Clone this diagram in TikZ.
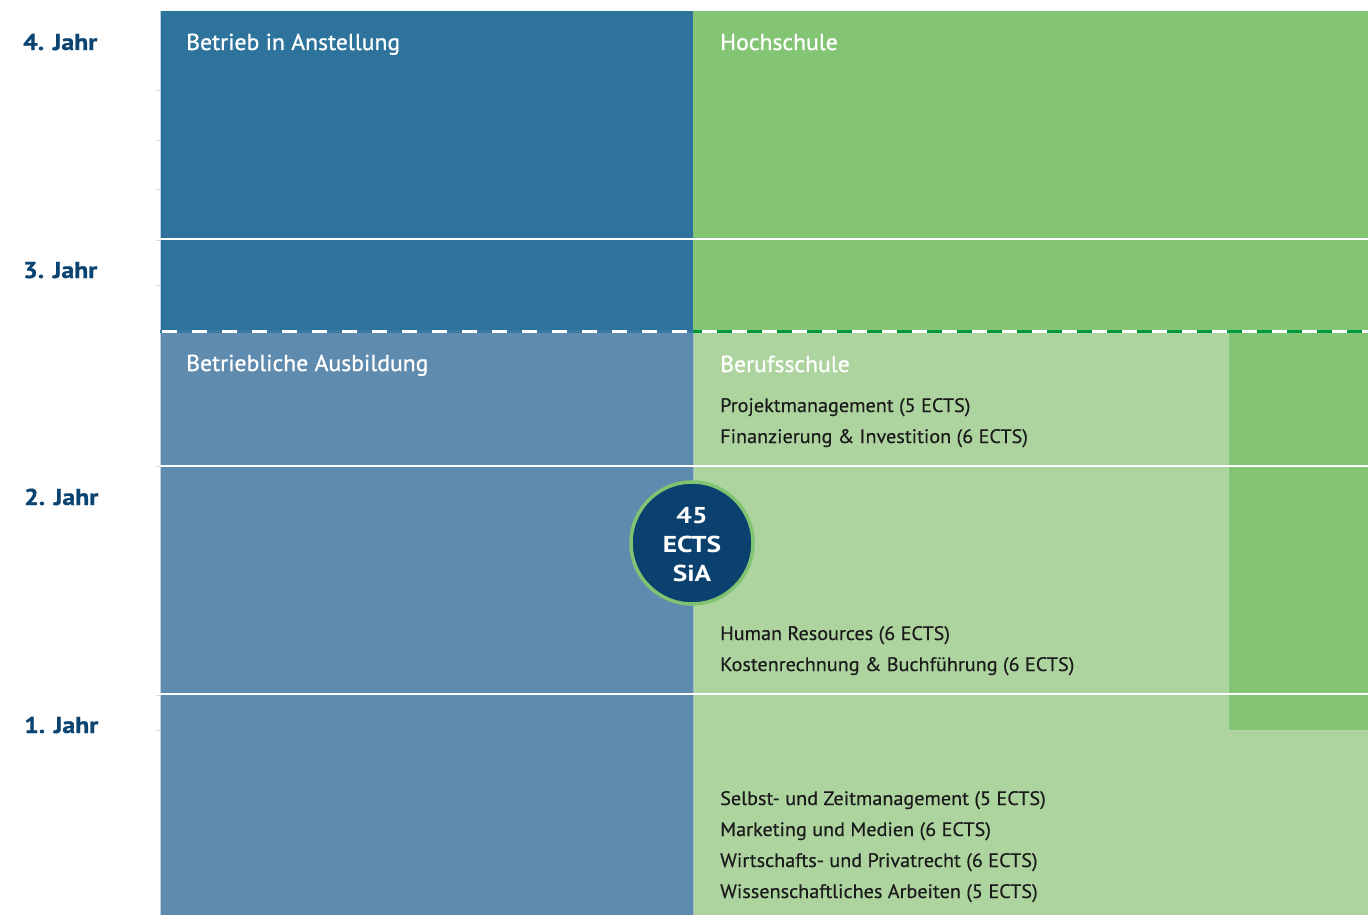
\documentclass[tikz,border=0pt]{standalone}
\usepackage{fontspec}
\setmainfont{PT Sans}[FakeStretch=1.03]
\newfontfamily\titlefont{PT Sans}[FakeStretch=1.03, FakeBold=0.9]
\newfontfamily\itemfont{PT Sans}[FakeStretch=1.035, FakeBold=0.35]
\newfontfamily\yearfont{PT Sans}[FakeStretch=1.12, FakeBold=0.8]
\newfontfamily\badgefont{PT Sans}[FakeStretch=1.19]
\definecolor{blueDark}{HTML}{2D739B}
\definecolor{blueLight}{HTML}{5F8BAE}
\definecolor{greenDark}{HTML}{84C475}
\definecolor{greenLight}{HTML}{ADD49F}
\definecolor{dashGreen}{HTML}{009A3E}
\definecolor{dashBlue}{HTML}{3A78A2}
\definecolor{navy}{HTML}{0B4470}
\definecolor{badgeFill}{HTML}{0B416E}
\definecolor{badgeRing}{HTML}{80C472}
\definecolor{itemText}{HTML}{1A1A1A}
\definecolor{tickGray}{HTML}{D3DAE0}
\tikzset{
  yearlabel/.style={anchor=base west, inner sep=0pt, text=navy, font=\yearfont\fontsize{23}{27}\selectfont\bfseries},
  paneltitle/.style={anchor=base west, inner sep=0pt, text=white, font=\titlefont\fontsize{23}{27}\selectfont},
  moduleitem/.style={anchor=base west, inner sep=0pt, text=itemText, font=\itemfont\fontsize{19.5}{23}\selectfont},
  badgetext/.style={anchor=base, inner sep=0pt, text=white, font=\badgefont\fontsize{23}{27}\selectfont\bfseries},
  yearrule/.style={white, line width=2pt},
  axistick/.style={tickGray, line width=1pt},
}
\begin{document}
\begin{tikzpicture}[x=1pt,y=-1pt]
\useasboundingbox (0,0) rectangle (1372,915);

% panels
\fill[blueDark]   (160,11)  rectangle (693,331);
\fill[blueLight]  (160,331) rectangle (693,915);
\fill[greenDark]  (693,11)  rectangle (1368,331);
\fill[greenLight] (693,331) rectangle (1368,915);
\fill[greenDark]  (1228,331) rectangle (1368,730);

% thin edges
\draw[white!60!blueLight, line width=1pt] (160.5,11) -- (160.5,915);
\draw[white!40!blueLight, line width=0.8pt] (693,331) -- (693,915);
\draw[white!35!greenDark, line width=0.8pt] (1228,331) -- (1228,730) -- (1368,730);

% ticks on the time axis
\foreach \ty in {91,140,189,240,285,466,695,730}
  \draw[axistick] (156,\ty) -- (160,\ty);

% year boundaries
\draw[yearrule] (160,238.5) -- (1368,238.5);
\draw[yearrule] (160,466) -- (1368,466);
\draw[yearrule] (160,694) -- (1368,694);

% transition between training and employment
\draw[dashBlue, line width=3.3pt]  (160,331.5) -- (693,331.5);
\draw[dashGreen, line width=3.3pt] (693,331.5) -- (1372,331.5);
\draw[white, line width=3.3pt, dash pattern=on 15pt off 15pt, dash phase=28pt] (160,331.5) -- (1372,331.5);

% year labels
\node[yearlabel] (y4) at (23,50)  {4. Jahr};
\node[yearlabel] (y3) at (23,278) {3. Jahr};
\node[yearlabel] (y2) at (24,505) {2. Jahr};
\node[yearlabel] (y1) at (24,733) {1. Jahr};

% panel titles
\node[paneltitle] (tA) at (186,50)  {Betrieb in Anstellung};
\node[paneltitle] (tH) at (720,50)  {Hochschule};
\node[paneltitle] (tB) at (186,371) {Betriebliche Ausbildung};
\node[paneltitle] (tS) at (720,372) {Berufsschule};

% modules
\node[moduleitem] (m1) at (720,412) {Projektmanagement (5 ECTS)};
\node[moduleitem] (m2) at (720,443) {Finanzierung \& Investition (6 ECTS)};
\node[moduleitem] (m3) at (720,640) {Human Resources (6 ECTS)};
\node[moduleitem] (m4) at (720,671) {Kostenrechnung \& Buchführung (6 ECTS)};
\node[moduleitem] (m5) at (720,805) {Selbst- und Zeitmanagement (5 ECTS)};
\node[moduleitem] (m6) at (720,836) {Marketing und Medien (6 ECTS)};
\node[moduleitem] (m7) at (720,867) {Wirtschafts- und Privatrecht (6 ECTS)};
\node[moduleitem] (m8) at (720,898) {Wissenschaftliches Arbeiten (5 ECTS)};

% credit badge
\node[circle, fill=badgeFill, draw=badgeRing, line width=3.5pt, minimum size=122pt, inner sep=0pt] (badge) at (692,543) {};
\node[badgetext] (b1) at (692,523) {45};
\node[badgetext] (b2) at (692,552) {ECTS};
\node[badgetext] (b3) at (692,581) {SiA};
\end{tikzpicture}
\end{document}
